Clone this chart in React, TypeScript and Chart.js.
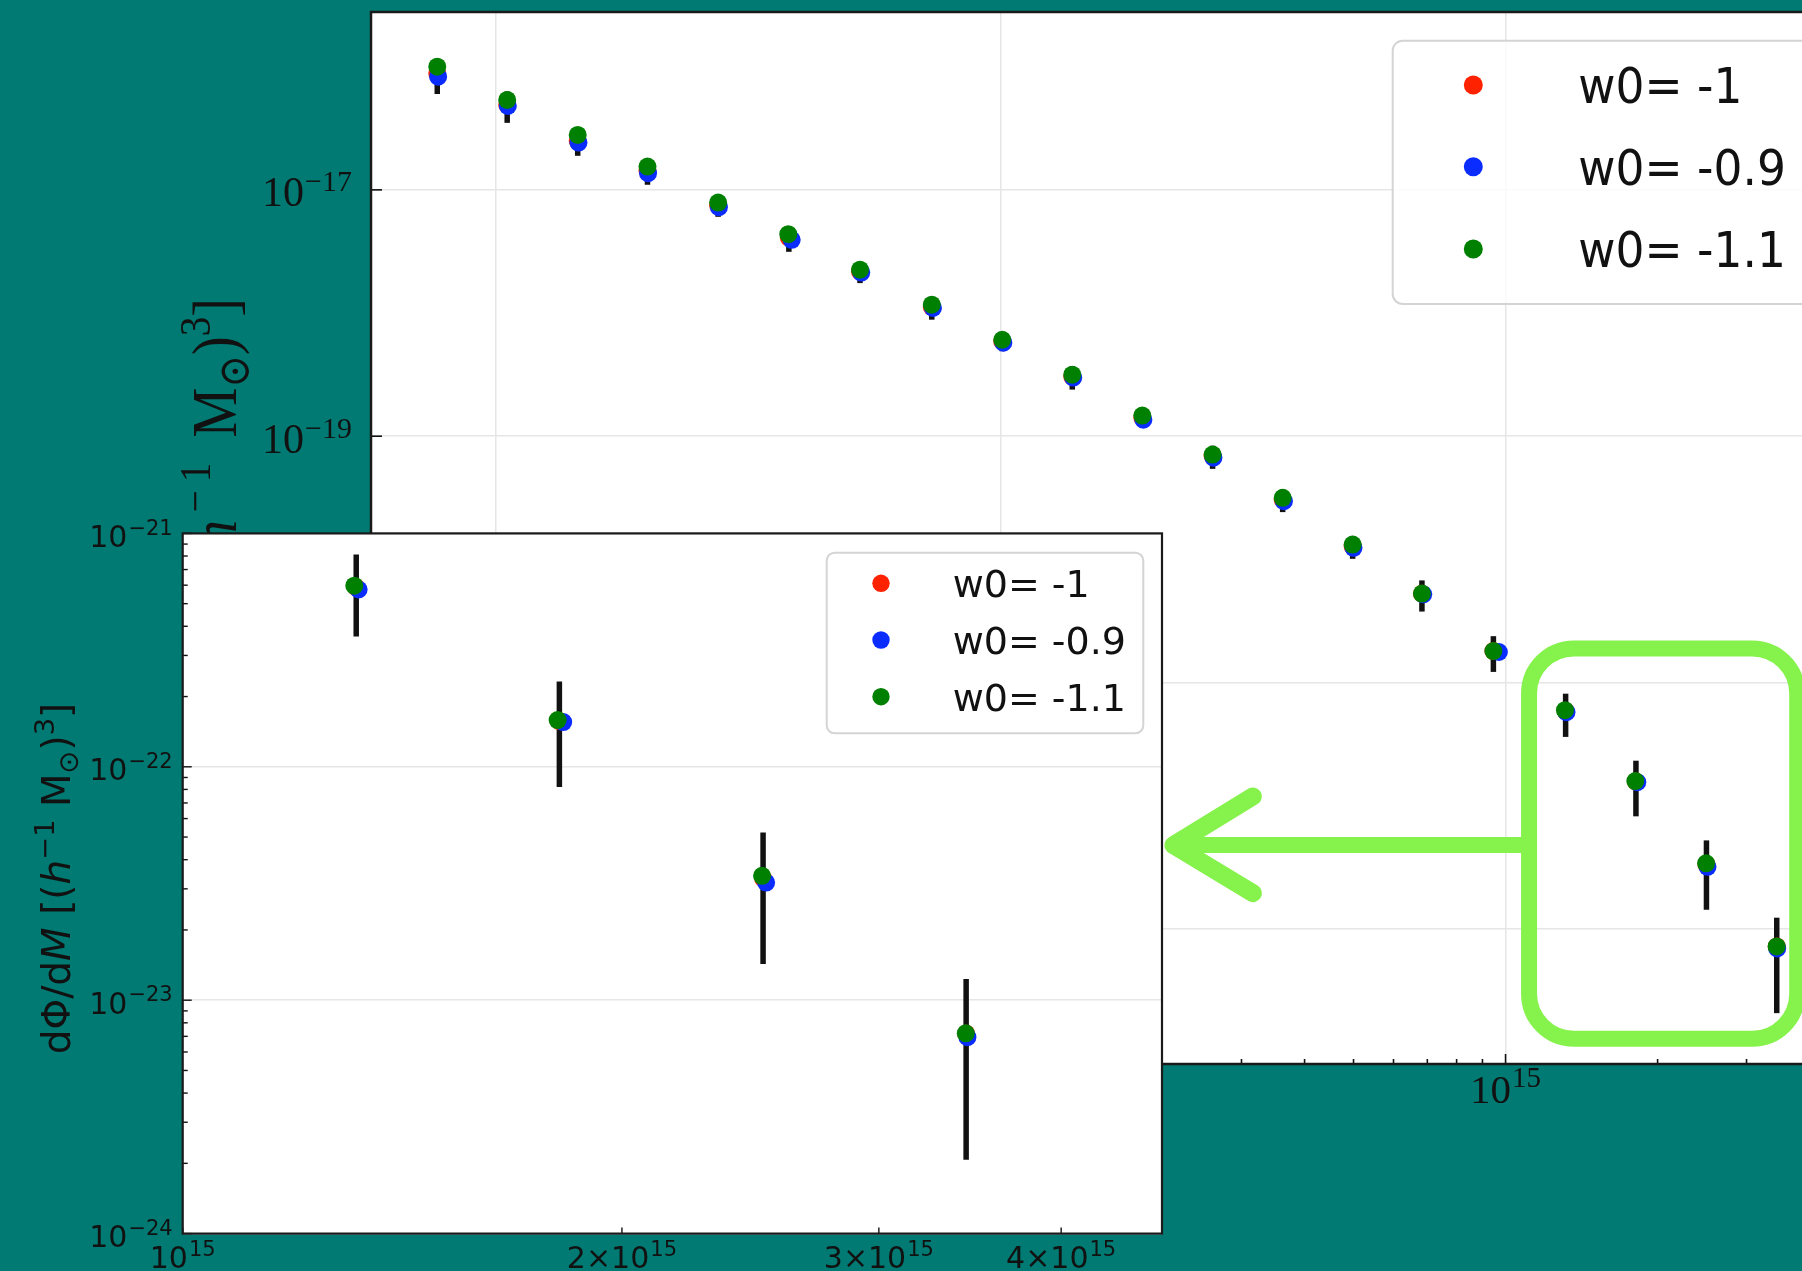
import React, { useEffect, useRef } from 'react';
import { Chart, registerables } from 'chart.js';

Chart.register(...registerables);

// ---------------- data ----------------
const seriesLabels = ['w0= -1', 'w0= -0.9', 'w0= -1.1'];
const seriesColors = ['#ff2200', '#0a2cff', '#008000'];

// cluster mass bins [h^-1 Msun]
const massRed = [7.67e12, 1.055e13, 1.455e13, 2.0e13, 2.76e13, 3.81e13, 5.27e13, 7.31e13, 1.008e14, 1.387e14, 1.909e14, 2.63e14, 3.62e14, 4.98e14, 6.83e14, 9.46e14, 1.315e15, 1.812e15, 2.499e15, 3.443e15];
const massBlue = [7.7e12, 1.058e13, 1.46e13, 2.005e13, 2.77e13, 3.86e13, 5.3e13, 7.35e13, 1.013e14, 1.393e14, 1.918e14, 2.64e14, 3.64e14, 5.0e14, 6.87e14, 9.7e14, 1.32e15, 1.823e15, 2.511e15, 3.45e15];
const massGreen = [7.67e12, 1.055e13, 1.455e13, 2.0e13, 2.76e13, 3.8e13, 5.27e13, 7.31e13, 1.008e14, 1.387e14, 1.909e14, 2.63e14, 3.62e14, 4.98e14, 6.83e14, 9.46e14, 1.311e15, 1.807e15, 2.495e15, 3.441e15];

// dPhi/dM values
const phiRed = [8.8e-17, 4.9e-17, 2.5e-17, 1.42e-17, 7.5e-18, 4.1e-18, 2.18e-18, 1.12e-18, 5.9e-19, 3.05e-19, 1.42e-19, 6.9e-20, 3.06e-20, 1.28e-20, 5.26e-21, 1.8e-21, 5.87e-22, 1.57e-22, 3.33e-23, 7.2e-24];
const phiBlue = [8.3e-17, 4.8e-17, 2.42e-17, 1.365e-17, 7.24e-18, 3.93e-18, 2.13e-18, 1.1e-18, 5.74e-19, 2.99e-19, 1.36e-19, 6.7e-20, 2.97e-20, 1.24e-20, 5.2e-21, 1.77e-21, 5.75e-22, 1.554e-22, 3.19e-23, 6.94e-24];
const phiGreen = [1.0e-16, 5.37e-17, 2.79e-17, 1.545e-17, 7.89e-18, 4.37e-18, 2.25e-18, 1.17e-18, 6.07e-19, 3.16e-19, 1.47e-19, 7.1e-20, 3.16e-20, 1.32e-20, 5.28e-21, 1.8e-21, 5.97e-22, 1.585e-22, 3.41e-23, 7.21e-24];
// symmetric error on the w0 = -1 series
const errRed = [2.8e-17, 1.4e-17, 6.1e-18, 3.2e-18, 1.46e-18, 9.6e-19, 4.3e-19, 2.37e-19, 1.0e-19, 6.6e-20, 2.5e-20, 1.47e-20, 6.4e-21, 2.7e-21, 1.49e-21, 5.8e-22, 2.25e-22, 7.5e-23, 1.9e-23, 5.13e-24];

// the zoomed inset shows the last four bins
const insetFirst = 16;

// axis ranges
const mainXRange = [5.67e12, 4.47e15];
const mainYRange = [8.16e-25, 2.78e-16];
const insetXRange = [1e15, 4.69e15];
const insetYRange = [1e-24, 1e-21];

// tick labels
const mainXTicks = [1e13, 1e14, 1e15];
const mainXTickExp = ['13', '14', '15'];
const mainYTicks = [1e-23, 1e-21, 1e-19, 1e-17];
const mainYTickExp = ['\u221223', '\u221221', '\u221219', '\u221217'];
const insetYTicks = [1e-24, 1e-23, 1e-22, 1e-21];
const insetYTickExp = ['\u221224', '\u221223', '\u221222', '\u221221'];
const insetXTicks = [1e15, 2e15, 3e15, 4e15];
const insetXTickBase = ['10', '2\u00d710', '3\u00d710', '4\u00d710'];
const insetXTickExp = ['15', '15', '15', '15'];

// hand-drawn highlight (in data coordinates of the main plot)
const highlightBox = { xMin: 1.113e15, xMax: 3.78e15, yTop: 1.89e-21, yBottom: 1.28e-24 };
const highlightArrow = { tailX: 1.113e15, tipX: 2.2e14, y: 4.79e-23, headX: 3.16e14, headTop: 1.19e-22, headBottom: 1.95e-23 };

// ---------------- styles ----------------
const TEAL = '#007a73';
const HILITE = '#86f24c';
const INK = '#111111';
const GRID = '#e6e6e6';
const SERIF = '"Liberation Serif", "DejaVu Serif", serif';
const SANS = '"DejaVu Sans", sans-serif';

type Part = { t: string; s: 'n' | 'i' | 'sup' | 'sub' };
const mainYLabelParts: Part[] = [
  { t: 'd\u03a6/d', s: 'n' }, { t: 'M', s: 'i' }, { t: ' [(', s: 'n' }, { t: 'h', s: 'i' }, { t: '\u2009\u2212\u20091', s: 'sup' },
  { t: '\u2009 M', s: 'n' }, { t: '\u2299', s: 'sub' }, { t: ')', s: 'n' }, { t: '3', s: 'sup' }, { t: ']', s: 'n' },
];
const insetYLabelParts: Part[] = [
  { t: 'd\u03a6/d', s: 'n' }, { t: 'M', s: 'i' }, { t: ' [(', s: 'n' }, { t: 'h', s: 'i' }, { t: '\u22121', s: 'sup' },
  { t: ' M', s: 'n' }, { t: '\u2299', s: 'sub' }, { t: ')', s: 'n' }, { t: '3', s: 'sup' }, { t: ']', s: 'n' },
];

function partFont(p: Part, size: number, family: string) {
  const sz = p.s === 'sup' || p.s === 'sub' ? size * 0.7 : size;
  return `${p.s === 'i' ? 'italic ' : ''}${sz}px ${family}`;
}

function drawRich(ctx: CanvasRenderingContext2D, parts: Part[], x: number, y: number, size: number, family: string, align: 'left' | 'center' | 'right') {
  let total = 0;
  const widths = parts.map((p) => {
    ctx.font = partFont(p, size, family);
    const w = ctx.measureText(p.t).width;
    total += w;
    return w;
  });
  let cx = align === 'right' ? x - total : align === 'center' ? x - total / 2 : x;
  ctx.textAlign = 'left';
  ctx.textBaseline = 'alphabetic';
  parts.forEach((p, i) => {
    ctx.font = partFont(p, size, family);
    const dy = p.s === 'sup' ? -0.42 * size : p.s === 'sub' ? 0.2 * size : 0;
    ctx.fillText(p.t, cx, y + dy);
    cx += widths[i];
  });
}

function drawPower(ctx: CanvasRenderingContext2D, base: string, exp: string, x: number, y: number,
  o: { family: string; size: number; sup: number; rise: number; align: 'left' | 'center' | 'right' }) {
  ctx.font = `${o.size}px ${o.family}`;
  const wb = ctx.measureText(base).width;
  ctx.font = `${o.sup}px ${o.family}`;
  const we = ctx.measureText(exp).width;
  const gap = 1;
  const total = wb + gap + we;
  const x0 = o.align === 'right' ? x - total : o.align === 'center' ? x - total / 2 : x;
  ctx.textAlign = 'left';
  ctx.textBaseline = 'alphabetic';
  ctx.fillStyle = INK;
  ctx.font = `${o.size}px ${o.family}`;
  ctx.fillText(base, x0, y);
  ctx.font = `${o.sup}px ${o.family}`;
  ctx.fillText(exp, x0 + wb + gap, y - o.rise);
}

function drawErrorBars(chart: any, xs: number[], ys: number[], es: number[], width: number) {
  const { ctx, chartArea: a, scales } = chart;
  const X = scales.x, Y = scales.y;
  ctx.save();
  ctx.beginPath();
  ctx.rect(a.left, a.top, a.right - a.left, a.bottom - a.top);
  ctx.clip();
  ctx.strokeStyle = INK;
  ctx.lineWidth = width;
  ctx.lineCap = 'butt';
  xs.forEach((m, i) => {
    const px = X.getPixelForValue(m);
    const lo = Math.max(ys[i] - es[i], Y.min);
    ctx.beginPath();
    ctx.moveTo(px, Y.getPixelForValue(ys[i] + es[i]));
    ctx.lineTo(px, Y.getPixelForValue(lo));
    ctx.stroke();
  });
  ctx.restore();
}

function drawLegend(ctx: CanvasRenderingContext2D, L: { left: number; top: number; right: number; bottom: number; radius: number; markerX: number; rows: number[]; textX: number; size: number; squeeze: number; r: number }) {
  ctx.save();
  ctx.beginPath();
  ctx.roundRect(L.left, L.top, L.right - L.left, L.bottom - L.top, L.radius);
  ctx.fillStyle = 'rgba(255,255,255,0.8)';
  ctx.fill();
  ctx.strokeStyle = '#d4d4d4';
  ctx.lineWidth = 2;
  ctx.stroke();
  seriesLabels.forEach((lab, i) => {
    const cy = L.rows[i];
    ctx.beginPath();
    ctx.arc(L.markerX, cy, L.r, 0, Math.PI * 2);
    ctx.fillStyle = seriesColors[i];
    ctx.fill();
    ctx.save();
    ctx.translate(L.textX, cy + 0.3645 * L.size);
    ctx.scale(L.squeeze, 1);
    ctx.font = `${L.size}px ${SANS}`;
    ctx.fillStyle = INK;
    ctx.textAlign = 'left';
    ctx.textBaseline = 'alphabetic';
    ctx.fillText(lab, 0, 0);
    ctx.restore();
  });
  ctx.restore();
}

function makeDatasets(from: number) {
  const xs = [massRed, massBlue, massGreen];
  const ys = [phiRed, phiBlue, phiGreen];
  return seriesLabels.map((label, k) => ({
    label,
    data: xs[k].slice(from).map((m, i) => ({ x: m, y: ys[k].slice(from)[i] })),
    pointBackgroundColor: seriesColors[k],
    pointBorderColor: seriesColors[k],
    pointBorderWidth: 0,
    pointRadius: 9,
    pointHoverRadius: 9,
    showLine: false,
    order: 3 - k,
  }));
}

function logScale(range: number[], ticks: number[], fit: (s: any) => void) {
  return {
    type: 'logarithmic' as const,
    min: range[0],
    max: range[1],
    afterBuildTicks: (s: any) => { s.ticks = ticks.map((v) => ({ value: v })); },
    afterFit: fit,
    ticks: { display: false },
    grid: { color: GRID, lineWidth: 1.5, drawTicks: false },
    border: { display: false },
  };
}

function minorTicks(lo: number, hi: number, n0: number, n1: number) {
  const out: number[] = [];
  for (let n = n0; n <= n1; n++) for (let k = 2; k <= 9; k++) {
    const v = k * Math.pow(10, n);
    if (v > lo && v < hi) out.push(v);
  }
  return out;
}

// marker-pen look: a wide stroke with a few offset passes so the edges look uneven
function roughStroke(ctx: CanvasRenderingContext2D, path: (c: CanvasRenderingContext2D) => void, width: number) {
  const passes: [number, number, number, number][] = [
    [0, 0, width, 1],
    [1.6, -1.2, width - 5, 0.9],
    [-1.4, 1.5, width - 5, 0.9],
    [0.8, 1.9, width - 8, 0.8],
  ];
  passes.forEach(([dx, dy, w, al]) => {
    ctx.save();
    ctx.translate(dx, dy);
    ctx.globalAlpha = al;
    ctx.lineWidth = w;
    ctx.beginPath();
    path(ctx);
    ctx.stroke();
    ctx.restore();
  });
}

const mainPlugin = {
  id: 'mainDeco',
  beforeDraw(chart: any) {
    const { ctx, chartArea: a } = chart;
    ctx.save();
    ctx.fillStyle = '#ffffff';
    ctx.fillRect(a.left, a.top, a.right - a.left, a.bottom - a.top);
    ctx.restore();
  },
  beforeDatasetsDraw(chart: any) {
    drawErrorBars(chart, massRed, phiRed, errRed, 5.5);
  },
  afterDraw(chart: any) {
    const { ctx, chartArea: a, scales } = chart;
    const X = scales.x, Y = scales.y;
    ctx.save();
    // ticks (pointing inward)
    ctx.strokeStyle = INK;
    ctx.lineWidth = 1.6;
    const tick = (x1: number, y1: number, x2: number, y2: number) => { ctx.beginPath(); ctx.moveTo(x1, y1); ctx.lineTo(x2, y2); ctx.stroke(); };
    mainXTicks.forEach((v) => { const p = X.getPixelForValue(v); tick(p, a.bottom, p, a.bottom - 10); });
    minorTicks(mainXRange[0], mainXRange[1], 12, 15).forEach((v) => { const p = X.getPixelForValue(v); tick(p, a.bottom, p, a.bottom - 5); });
    mainYTicks.forEach((v) => { const p = Y.getPixelForValue(v); tick(a.left, p, a.left + 11, p); });
    // spines
    ctx.strokeStyle = '#1a1a1a';
    ctx.lineWidth = 2.5;
    ctx.strokeRect(a.left, a.top, a.right - a.left, a.bottom - a.top);
    // tick labels
    mainYTicks.forEach((v, i) => {
      const p = Y.getPixelForValue(v);
      drawPower(ctx, '10', mainYTickExp[i], a.left - 19, p + 16.5, { family: SERIF, size: 42, sup: 30, rise: 15, align: 'right' });
    });
    mainXTicks.forEach((v, i) => {
      const p = X.getPixelForValue(v);
      drawPower(ctx, '10', mainXTickExp[i], p, a.bottom + 39, { family: SERIF, size: 41, sup: 29, rise: 16, align: 'center' });
    });
    // y axis title (mostly hidden by the inset)
    ctx.save();
    ctx.translate(236, 298);
    ctx.rotate(-Math.PI / 2);
    ctx.scale(1, 1.12);
    ctx.fillStyle = INK;
    drawRich(ctx, mainYLabelParts, 0, 0, 56, SERIF, 'right');
    ctx.restore();
    // legend
    drawLegend(ctx, { left: 1392.7, top: 40.7, right: 1870, bottom: 304, radius: 10, markerX: 1473.3, rows: [85, 166.7, 249], textX: 1578.3, size: 50, squeeze: 0.91, r: 9.5 });
    // hand-drawn highlight box and arrow
    const L = X.getPixelForValue(highlightBox.xMin), R = X.getPixelForValue(highlightBox.xMax);
    const T = Y.getPixelForValue(highlightBox.yTop), B = Y.getPixelForValue(highlightBox.yBottom);
    ctx.strokeStyle = HILITE;
    ctx.lineJoin = 'round';
    ctx.lineCap = 'round';
    roughStroke(ctx, (c) => c.roundRect(L, T, R - L, B - T, 45), 16);
    const ay = Y.getPixelForValue(highlightArrow.y);
    const tail = X.getPixelForValue(highlightArrow.tailX);
    const tip = X.getPixelForValue(highlightArrow.tipX);
    const hx = X.getPixelForValue(highlightArrow.headX);
    roughStroke(ctx, (c) => { c.moveTo(tail, ay); c.lineTo(tip + 8, ay); }, 16);
    roughStroke(ctx, (c) => {
      c.moveTo(hx, Y.getPixelForValue(highlightArrow.headTop));
      c.lineTo(tip, ay);
      c.lineTo(hx, Y.getPixelForValue(highlightArrow.headBottom));
    }, 18);
    ctx.restore();
  },
};

const INSET_TOP = 440;

const insetPlugin = {
  id: 'insetDeco',
  beforeDraw(chart: any) {
    const { ctx, chartArea: a } = chart;
    ctx.save();
    ctx.fillStyle = '#ffffff';
    ctx.fillRect(a.left, a.top, a.right - a.left, a.bottom - a.top);
    ctx.restore();
  },
  beforeDatasetsDraw(chart: any) {
    drawErrorBars(chart, massRed.slice(insetFirst), phiRed.slice(insetFirst), errRed.slice(insetFirst), 5.5);
  },
  afterDraw(chart: any) {
    const { ctx, chartArea: a, scales } = chart;
    const X = scales.x, Y = scales.y;
    ctx.save();
    ctx.strokeStyle = INK;
    ctx.lineWidth = 1.4;
    const tick = (x1: number, y1: number, x2: number, y2: number) => { ctx.beginPath(); ctx.moveTo(x1, y1); ctx.lineTo(x2, y2); ctx.stroke(); };
    insetYTicks.forEach((v) => { const p = Y.getPixelForValue(v); tick(a.left, p, a.left + 9, p); });
    minorTicks(insetYRange[0], insetYRange[1], -24, -22).forEach((v) => { const p = Y.getPixelForValue(v); tick(a.left, p, a.left + 5, p); });
    insetXTicks.forEach((v) => { const p = X.getPixelForValue(v); tick(p, a.bottom, p, a.bottom - 6); });
    // spines
    ctx.strokeStyle = '#1a1a1a';
    ctx.lineWidth = 2.2;
    ctx.strokeRect(a.left, a.top, a.right - a.left, a.bottom - a.top);
    // tick labels
    insetYTicks.forEach((v, i) => {
      const p = Y.getPixelForValue(v);
      drawPower(ctx, '10', insetYTickExp[i], a.left - 10, p + 13.4, { family: SANS, size: 30, sup: 21, rise: 12.3, align: 'right' });
    });
    insetXTicks.forEach((v, i) => {
      const p = X.getPixelForValue(v);
      drawPower(ctx, insetXTickBase[i], insetXTickExp[i], p, a.bottom + 34.4, { family: SANS, size: 30, sup: 21, rise: 12.3, align: 'center' });
    });
    // y axis title
    ctx.save();
    ctx.translate(70, (a.top + a.bottom) / 2 - 5);
    ctx.rotate(-Math.PI / 2);
    ctx.fillStyle = INK;
    drawRich(ctx, insetYLabelParts, 0, 0, 39, SANS, 'center');
    ctx.restore();
    // legend
    drawLegend(ctx, { left: 826.7, top: 552.7 - INSET_TOP, right: 1143.3, bottom: 733.3 - INSET_TOP, radius: 8, markerX: 881, rows: [583.3 - INSET_TOP, 640 - INSET_TOP, 696.7 - INSET_TOP], textX: 952.7, size: 38, squeeze: 1.0, r: 8.7 });
    ctx.restore();
  },
};

export default function App() {
  const mainRef = useRef<HTMLCanvasElement | null>(null);
  const insetRef = useRef<HTMLCanvasElement | null>(null);

  useEffect(() => {
    if (!mainRef.current || !insetRef.current) return;
    const main = new Chart(mainRef.current, {
      type: 'scatter',
      data: { datasets: makeDatasets(0) as any },
      options: {
        responsive: false,
        animation: false,
        devicePixelRatio: 1,
        events: [],
        layout: { padding: { left: 0, top: 12, right: 66, bottom: 207 } },
        plugins: { legend: { display: false }, tooltip: { enabled: false } },
        scales: {
          x: logScale(mainXRange, mainXTicks, (s: any) => { s.height = 0; }) as any,
          y: logScale(mainYRange, mainYTicks, (s: any) => { s.width = 371; }) as any,
        },
      },
      plugins: [mainPlugin as any],
    });
    const inset = new Chart(insetRef.current, {
      type: 'scatter',
      data: { datasets: makeDatasets(insetFirst) as any },
      options: {
        responsive: false,
        animation: false,
        devicePixelRatio: 1,
        events: [],
        layout: { padding: { left: 0, top: 93.4, right: 38, bottom: 37.4 } },
        plugins: { legend: { display: false }, tooltip: { enabled: false } },
        scales: {
          x: logScale(insetXRange, [1e15], (s: any) => { s.height = 0; }) as any,
          y: logScale(insetYRange, insetYTicks, (s: any) => { s.width = 182.7; }) as any,
        },
      },
      plugins: [insetPlugin as any],
    });
    return () => { main.destroy(); inset.destroy(); };
  }, []);

  return (
    <div style={{ position: 'fixed', left: 0, top: 0, width: 1802, height: 1271, background: TEAL, overflow: 'hidden' }}>
      <canvas ref={mainRef} width={1900} height={1271} style={{ position: 'absolute', left: 0, top: 0 }} />
      <canvas ref={insetRef} width={1200} height={831} style={{ position: 'absolute', left: 0, top: INSET_TOP }} />
    </div>
  );
}
